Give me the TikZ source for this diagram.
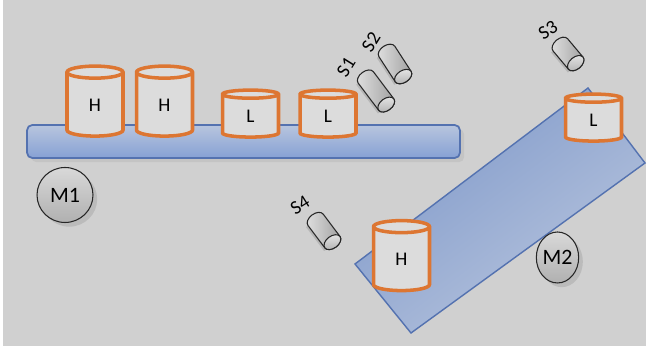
\documentclass[tikz,border=0pt]{standalone}
\usepackage{fontspec}
\setmainfont{Carlito}
\usetikzlibrary{shapes.geometric,shadows}

\definecolor{bggray}{RGB}{208,208,208}
\definecolor{canfill}{RGB}{220,220,220}
\definecolor{canorange}{RGB}{221,118,50}
\definecolor{beltline}{RGB}{84,114,176}
\definecolor{beltlight}{RGB}{184,197,222}
\definecolor{beltdark}{RGB}{134,161,212}

\begin{document}
\begin{tikzpicture}[x=0.02cm, y=-0.02cm,
  can/.style={shape=cylinder, shape border rotate=90, aspect=1, draw=canorange,
    line width=2pt, fill=canfill, minimum width=1.12cm, inner sep=0pt,
    font=\fontsize{11}{12}\selectfont},
  highcan/.style={can, minimum height=1.4cm},
  lowcan/.style={can, minimum height=0.94cm},
  % small tilted sensor, #1 = half the length of its body
  pics/sensor/.style={code={
    \fill[black, opacity=0.12] (-#1,-7) -- (#1+2,-7) -- (#1+4,0) -- (#1+2,12) -- (-#1,12) -- cycle;
    \path[draw=black!85, line width=0.6pt, left color=gray!25, right color=gray!75]
      (-#1,-9.5) -- (#1,-9.5) arc[start angle=-90, end angle=90, x radius=6, y radius=9.5]
      -- (-#1,9.5) arc[start angle=90, end angle=270, x radius=6, y radius=9.5] -- cycle;
    \path[draw=black!85, line width=0.6pt, top color=gray!20, bottom color=gray!60]
      (#1,0) ellipse [x radius=6, y radius=9.5];
  }},
  motor/.style={ellipse, draw=black!85, line width=0.6pt, top color=gray!30,
    bottom color=gray!62, inner sep=0pt, font=\fontsize{12.5}{13}\selectfont,
    drop shadow={opacity=0.25}},
  tag/.style={inner sep=0pt, font=\fontsize{11}{12}\selectfont}]

  \useasboundingbox (0, 0) rectangle (649, 350);
  \fill[bggray] (3, 0) rectangle (646, 346);

  % first belt
  \node (belt1) at (243.5, 141.5) [rectangle, rounded corners=3pt, draw=beltline,
    line width=1pt, top color=beltlight, bottom color=beltdark,
    minimum width=8.66cm, minimum height=0.66cm, drop shadow={opacity=0.15}] {};

  % second belt, tilted
  \path[draw=beltline, line width=0.8pt, left color=beltdark!95!black,
    right color=beltlight, shading angle=37]
    (355, 264) -- (588, 88) -- (645, 163) -- (411, 333) -- cycle;

  \node (m1) at (65, 195) [motor, minimum width=1.12cm, minimum height=1.1cm] {M1};
  \node (m2) at (557.5, 257.5) [motor, minimum width=0.84cm, minimum height=1.02cm] {M2};

  \node (h1) at (95, 105) [highcan] {H};
  \node (h2) at (164.5, 105) [highcan] {H};
  \node (l1) at (250.5, 116.5) [lowcan] {L};
  \node (l2) at (328, 116.5) [lowcan] {L};
  \node (l3) at (593.5, 120.5) [lowcan] {L};
  \node (h3) at (401.5, 259.5) [highcan] {H};

  \pic (s1) at (376, 91) [rotate=-53] {sensor=17};
  \pic (s2) at (395, 64) [rotate=-57] {sensor=15};
  \pic (s3) at (568, 54) [rotate=-50] {sensor=12};
  \pic (s4) at (324, 231) [rotate=-53] {sensor=14};

  \node (s1 tag) at (346, 67) [tag, rotate=58] {S1};
  \node (s2 tag) at (371, 42) [tag, rotate=58] {S2};
  \node (s3 tag) at (548, 30) [tag, rotate=32] {S3};
  \node (s4 tag) at (300, 205) [tag, rotate=32] {S4};
\end{tikzpicture}
\end{document}
